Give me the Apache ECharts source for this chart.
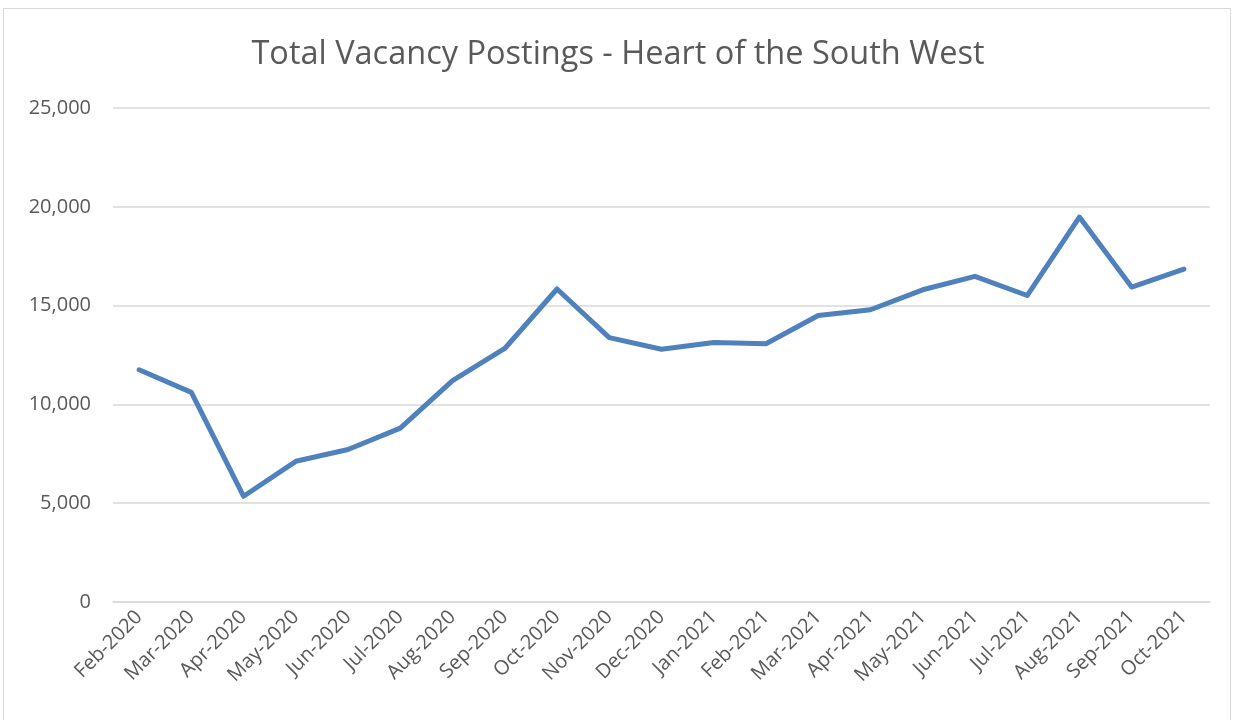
<!DOCTYPE html>
<html>
<head>
<meta charset="utf-8">
<script src="https://cdn.jsdelivr.net/npm/echarts@6/dist/echarts.min.js"></script>
<style>
  html, body { margin: 0; padding: 0; background: #fff; }
  #frame {
    position: absolute; left: 3px; top: 8px;
    width: 1228px; height: 720px;
    border: 1px solid #d9d9d9; box-sizing: border-box;
  }
  #chart { position: absolute; left: 0; top: 0; width: 1236px; height: 720px; }
</style>
</head>
<body>
<div id="frame"></div>
<div id="chart"></div>
<script>
// months along the x axis
const months = ['Feb-2020', 'Mar-2020', 'Apr-2020', 'May-2020', 'Jun-2020', 'Jul-2020',
  'Aug-2020', 'Sep-2020', 'Oct-2020', 'Nov-2020', 'Dec-2020', 'Jan-2021', 'Feb-2021',
  'Mar-2021', 'Apr-2021', 'May-2021', 'Jun-2021', 'Jul-2021', 'Aug-2021', 'Sep-2021', 'Oct-2021']
// total postings
const postings = [11750, 10610, 5350, 7120, 7720, 8800, 11200, 12830, 15840, 13380, 12790,
  13130, 13070, 14500, 14790, 15800, 16480, 15510, 19480, 15940, 16850]
const yTicks = [0, 5000, 10000, 15000, 20000, 25000]

let mycharts = echarts.init(document.getElementById('chart'))
mycharts.setOption({
  animation: false,
  title: {
    text: 'Total Vacancy Postings - Heart of the South West',
    left: 'center',
    top: 33,
    textStyle: { fontFamily: 'Open Sans', fontSize: 32.5, fontWeight: 'normal', color: '#595959' }
  },
  grid: { left: 113, right: 26, top: 108, bottom: 118 },
  xAxis: {
    type: 'category',
    data: months,
    axisLine: { show: true, lineStyle: { color: '#d9d9d9', width: 1.5 } },
    axisTick: { show: false },
    axisLabel: {
      rotate: 45, interval: 0, margin: 12,
      fontFamily: 'Open Sans', fontSize: 20, color: '#595959'
    }
  },
  yAxis: {
    type: 'value',
    min: yTicks[0],
    max: yTicks[yTicks.length - 1],
    interval: 5000,
    axisLine: { show: false },
    axisTick: { show: false },
    splitLine: { lineStyle: { color: '#d9d9d9', width: 1.5 } },
    axisLabel: {
      margin: 22,
      fontFamily: 'Open Sans', fontSize: 20, color: '#595959',
      formatter: v => v.toLocaleString('en-US')
    }
  },
  series: [{
    type: 'line',
    data: postings,
    showSymbol: false,
    lineStyle: { color: '#4f81bd', width: 5, cap: 'round', join: 'round' }
  }]
})
</script>
</body>
</html>
